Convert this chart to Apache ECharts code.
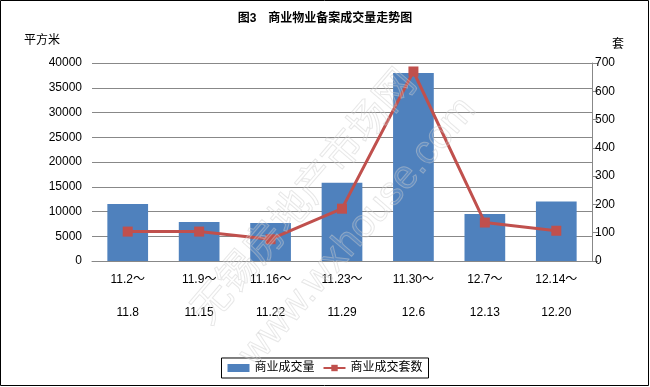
<!DOCTYPE html>
<html><head><meta charset="utf-8">
<script src="https://cdn.jsdelivr.net/npm/echarts@6/dist/echarts.min.js"></script>
<style>html,body{margin:0;padding:0;background:#fff}#c{width:650px;height:387px}</style>
</head><body><div id="c"></div>
<script>
const categories = ['11.2～\n11.8','11.9～\n11.15','11.16～\n11.22','11.23～\n11.29','11.30～\n12.6','12.7～\n12.13','12.14～\n12.20'];
const areaValues = [11500, 7900, 7700, 15800, 38000, 9500, 12000];
const unitValues = [104, 104, 77, 185, 670, 136, 107];
const leftTicks = {min:0, max:40000, interval:5000};
const rightTicks = {min:0, max:700, interval:100};
const FONT = '"Liberation Sans","Noto Sans CJK SC",sans-serif';

const chart = echarts.init(document.getElementById('c'));
chart.setOption({
  animation:false,
  textStyle:{fontFamily:FONT},
  title:{text:'图3　商业物业备案成交量走势图', left:'center', top:8,
    textStyle:{fontSize:12, fontWeight:'bold', color:'#000', fontFamily:FONT}},
  grid:{left:92, right:58, top:63, bottom:126},
  legend:{bottom:9, left:'center', borderColor:'#000', borderWidth:1, padding:[4,6],
    itemGap:8, itemWidth:22, itemHeight:8,
    textStyle:{fontSize:12, color:'#000'},
    data:[{name:'商业成交量', icon:'rect'},{name:'商业成交套数'}]},
  xAxis:{type:'category', data:categories,
    axisLine:{lineStyle:{color:'#888'}}, axisTick:{show:false},
    axisLabel:{interval:0, margin:2, fontSize:12, color:'#000', lineHeight:33}},
  yAxis:[
    {type:'value', min:leftTicks.min, max:leftTicks.max, interval:leftTicks.interval,
     name:'平方米', nameLocation:'end', nameGap:16, nameTextStyle:{fontSize:12,color:'#000',align:'right', padding:[0,32,0,0]},
     axisLine:{show:false}, axisTick:{show:false},
     axisLabel:{fontSize:12, color:'#000', margin:10, formatter:v=>String(v)},
     splitLine:{lineStyle:{color:'#888', width:1}}},
    {type:'value', min:rightTicks.min, max:rightTicks.max, interval:rightTicks.interval,
     name:'套', nameLocation:'end', nameGap:12, nameTextStyle:{fontSize:12,color:'#000', align:'left', padding:[0,0,0,20]},
     axisLine:{show:true, lineStyle:{color:'#888'}}, axisTick:{show:true, length:6, lineStyle:{color:'#888'}},
     axisLabel:{fontSize:12, color:'#000', margin:3, formatter:v=>String(v)},
     splitLine:{show:false}}
  ],
  series:[
    {name:'商业成交量', type:'bar', data:areaValues, yAxisIndex:0, barCategoryGap:'43%',
     itemStyle:{color:'#4F81BD'}},
    {name:'商业成交套数', type:'line', data:unitValues, yAxisIndex:1,
     symbol:'rect', symbolSize:10, lineStyle:{color:'#C0504D', width:3},
     itemStyle:{color:'#C0504D'}}
  ],
  graphic:[
    {type:'rect', shape:{x:0.5,y:0.5,width:648,height:385}, style:{fill:'none', stroke:'#000', lineWidth:1}, z:100},
    {type:'text', x:302, y:195, rotation:0.86, z:50, silent:true,
     style:{text:'无锡房地产市场网', font:'40px "Noto Sans CJK SC"', fill:'rgba(255,255,255,0.1)', stroke:'rgba(200,200,200,0.45)', lineWidth:1, textAlign:'center', textVerticalAlign:'middle'}},
    {type:'text', x:358, y:232, rotation:0.86, z:50, silent:true,
     style:{text:'www.wxhouse.com', font:'40px "Liberation Sans"', fill:'rgba(255,255,255,0.1)', stroke:'rgba(200,200,200,0.45)', lineWidth:1, textAlign:'center', textVerticalAlign:'middle'}}
  ]
});
</script></body></html>
